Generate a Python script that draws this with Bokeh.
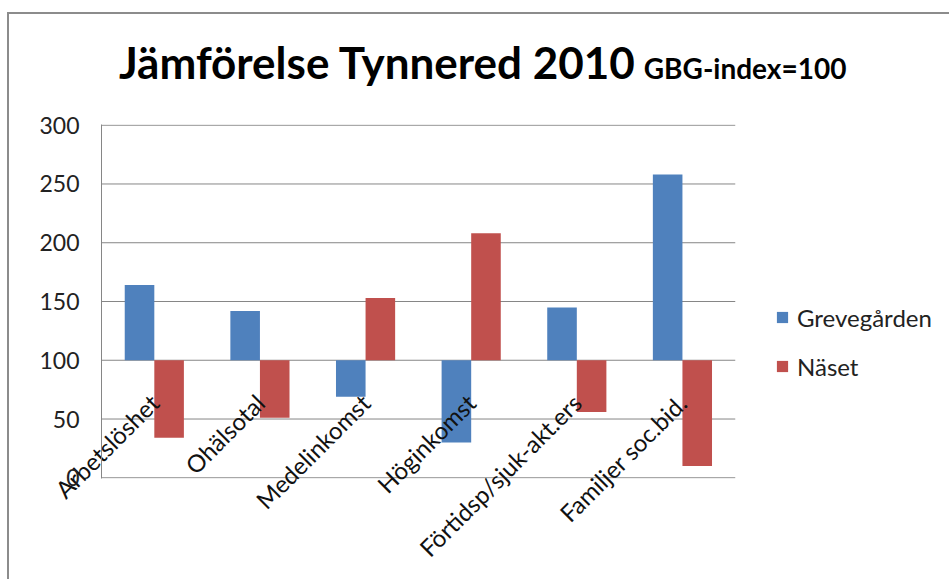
import math
from bokeh.plotting import figure
from bokeh.layouts import column
from bokeh.models import (ColumnDataSource, Range1d, FixedTicker,
                          Legend, LegendItem, Div)
from bokeh.transform import dodge
from bokeh.embed import file_html
from bokeh.resources import INLINE

# ---- data ----
categories = ["Arbetslöshet", "Ohälsotal", "Medelinkomst", "Höginkomst",
              "Förtidsp/sjuk-akt.ers", "Familjer soc.bid."]
grevegarden = [164, 142, 69, 30, 145, 258]
naset = [34, 51, 153, 208, 56, 10]
index_base = 100
y_ticks = [0, 50, 100, 150, 200, 250, 300]
series_names = ["Grevegården", "Näset"]
title_main = "Jämförelse Tynnered 2010"
title_sub = "GBG-index=100"

BLUE = "#4F81BD"
RED = "#C0504D"
GRID = "#868686"
FONT = "Lato"

n = len(categories)
positions = list(range(1, n + 1))          # one slot per category
source = ColumnDataSource(dict(pos=positions, cat=categories,
                               greve=grevegarden, naset=naset,
                               base=[index_base] * n))
grid_src = ColumnDataSource(dict(y=y_ticks, x0=[0.5] * len(y_ticks),
                                 x1=[n + 0.5] * len(y_ticks)))

W = 940
# x range leaves room on the right for the legend
p = figure(x_range=Range1d(0.5, n + 2.5), y_range=Range1d(-0.6, 300.6),
           width=W, height=475, output_backend="svg", toolbar_location=None,
           min_border_left=92, min_border_right=3, min_border_top=20,
           min_border_bottom=101)
p.outline_line_color = None
p.background_fill_color = "white"
p.border_fill_color = "white"
p.xgrid.visible = False
p.ygrid.visible = False

# horizontal gridlines over the category area only
p.segment(x0="x0", x1="x1", y0="y", y1="y", source=grid_src,
          line_color=GRID, line_width=1)

r1 = p.vbar(x=dodge("pos", -0.14), bottom="base", top="greve",
            width=0.28, source=source, fill_color=BLUE, line_color=None)
r2 = p.vbar(x=dodge("pos", 0.14), bottom="base", top="naset",
            width=0.28, source=source, fill_color=RED, line_color=None)

# y axis
yax = p.left[0]
yax.ticker = FixedTicker(ticks=y_ticks)
yax.axis_line_color = GRID
yax.major_tick_line_color = None
yax.minor_tick_line_color = None
yax.major_tick_out = 0
yax.major_tick_in = 0
yax.major_label_standoff = 22
yax.major_label_text_font = FONT
yax.major_label_text_font_size = "23px"
yax.major_label_text_color = "#222222"

# x axis: category names pulled up next to the index-100 line
xax = p.below[0]
xax.ticker = FixedTicker(ticks=positions)
xax.major_label_overrides = {pos: cat for pos, cat in zip(positions, categories)}
xax.axis_line_color = None
xax.major_tick_line_color = None
xax.minor_tick_line_color = None
xax.major_tick_out = 0
xax.major_tick_in = 0
xax.major_label_orientation = math.pi / 4
xax.major_label_standoff = -80
xax.major_label_text_font = FONT
xax.major_label_text_font_size = "24px"
xax.major_label_text_color = "#111111"

# legend
legend = Legend(items=[LegendItem(label=series_names[0], renderers=[r1]),
                       LegendItem(label=series_names[1], renderers=[r2])],
                location=(674, 97), orientation="vertical")
legend.border_line_color = None
legend.background_fill_alpha = 0
legend.padding = 0
legend.margin = 0
legend.glyph_width = 14
legend.glyph_height = 14
legend.label_height = 30
legend.spacing = 19
legend.label_standoff = 8
legend.label_text_font = FONT
legend.label_text_font_size = "24px"
legend.label_text_color = "#222222"
p.add_layout(legend)

# title
title_html = (
    f'<span style="font-size:44px">{title_main}</span>'
    f'<span style="font-size:28px;margin-left:9px">{title_sub}</span>'
)
title = Div(text=title_html, width=W, height=90, margin=0,
            styles={"font-family": FONT, "font-weight": "bold", "color": "#000",
                    "white-space": "nowrap", "line-height": "1",
                    "padding-left": "110px", "padding-top": "26px",
                    "box-sizing": "border-box"})

layout = column(title, p, spacing=0)
layout.margin = (12, 0, 0, 7)
layout.styles = {"border-left": "2px solid #8c8c8c",
                 "border-top": "2px solid #8c8c8c"}

open("out.html", "w").write(file_html(layout, INLINE))
